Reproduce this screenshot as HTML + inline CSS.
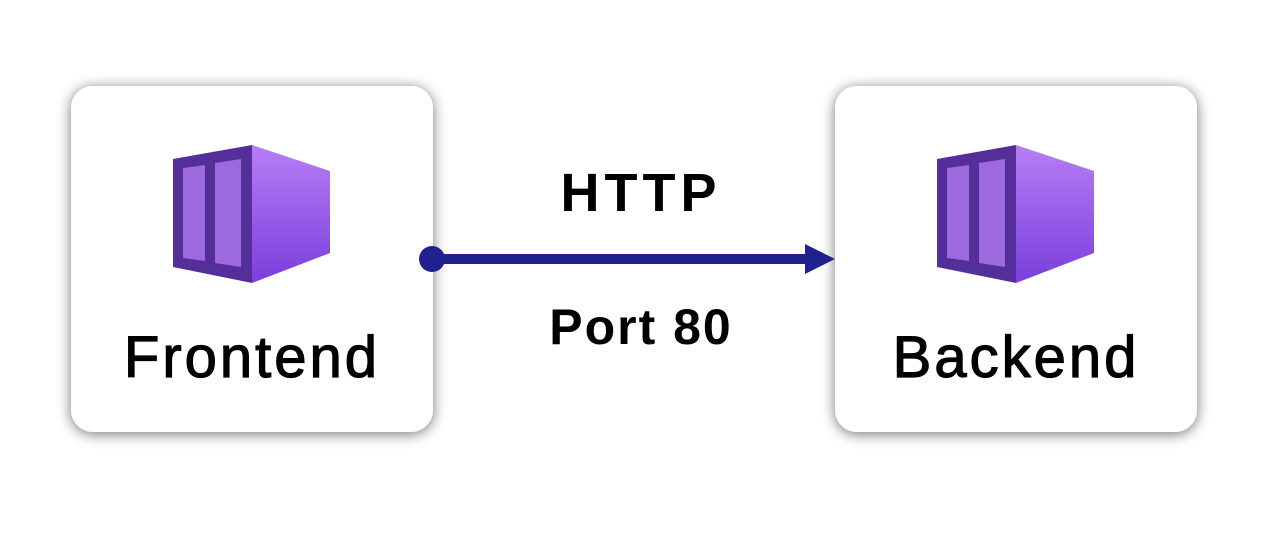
<!DOCTYPE html>
<html><head><meta charset="utf-8"><style>
html,body{margin:0;padding:0;background:#fff;width:1281px;height:534px;overflow:hidden}
svg{display:block}
text{font-family:"Liberation Sans","DejaVu Sans",sans-serif;fill:#000}
</style></head><body>
<svg width="1281" height="534" viewBox="0 0 1281 534">
<defs>
<filter id="sh" x="-15%" y="-15%" width="130%" height="130%">
<feGaussianBlur in="SourceAlpha" stdDeviation="7"/>
<feOffset dx="0" dy="2"/>
<feComponentTransfer><feFuncA type="linear" slope="0.55"/></feComponentTransfer>
<feMerge><feMergeNode/><feMergeNode in="SourceGraphic"/></feMerge>
</filter>
<linearGradient id="g" x1="0" y1="0" x2="0" y2="1">
<stop offset="0" stop-color="#b67ef5"/><stop offset="1" stop-color="#7a3fdc"/>
</linearGradient>
<g id="icon">
<polygon points="173,159 252,145 252,283 173,267" fill="#552f99"/>
<polygon points="252,145 330,171 330,253 252,283" fill="url(#g)"/>
<polygon points="183,168 205,165 205,261 183,258" fill="#9c6ade"/>
<polygon points="215,163 241,159 241,267 215,263" fill="#9c6ade"/>
</g>
</defs>
<rect x="71" y="86" width="362" height="346" rx="22" fill="#fff" filter="url(#sh)"/>
<rect x="835" y="86" width="362" height="346" rx="22" fill="#fff" filter="url(#sh)"/>
<use href="#icon"/>
<use href="#icon" transform="translate(764,0)"/>
<text x="252" y="377" font-size="58" text-anchor="middle" letter-spacing="3" stroke="#000" stroke-width="1.2">Frontend</text>
<text x="1016" y="377" font-size="58" text-anchor="middle" letter-spacing="3" stroke="#000" stroke-width="1.2">Backend</text>
<text x="641" y="211" font-size="54" font-weight="bold" text-anchor="middle" letter-spacing="5">HTTP</text>
<text x="641" y="344" font-size="50" font-weight="bold" text-anchor="middle" letter-spacing="2">Port 80</text>
<line x1="432" y1="259" x2="808" y2="259" stroke="#20208f" stroke-width="10"/>
<polygon points="805,244 835,259 805,274" fill="#20208f"/>
<circle cx="432" cy="259" r="13" fill="#20208f"/>
</svg>
</body></html>
